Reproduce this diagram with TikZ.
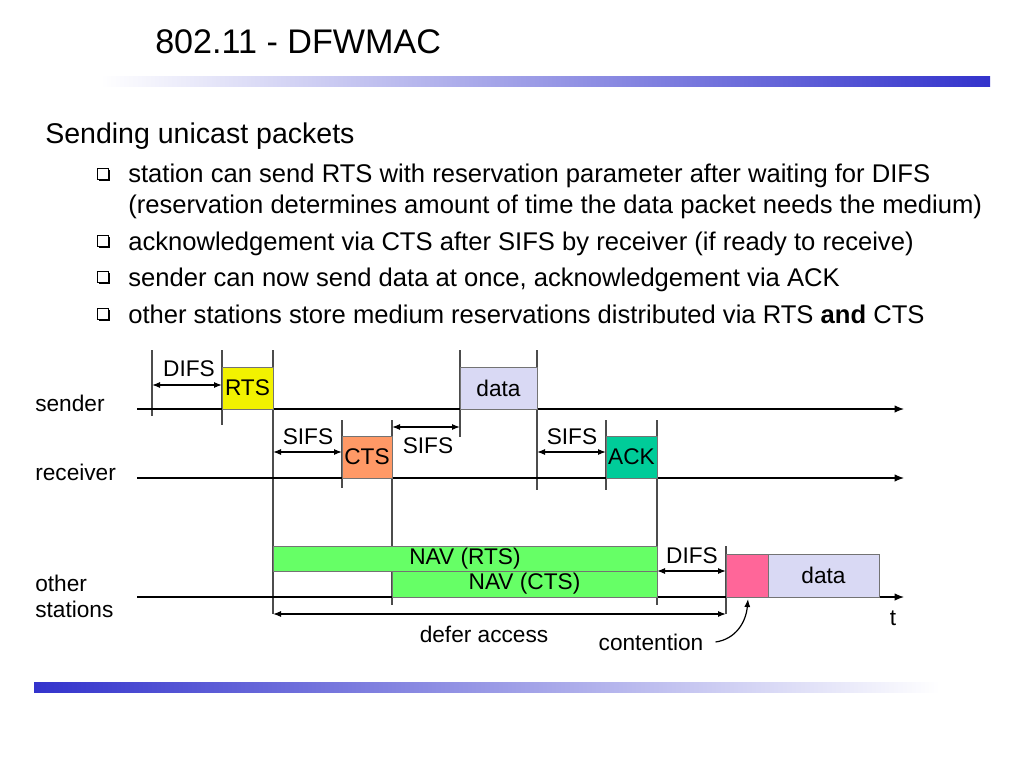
\documentclass[tikz,border=0pt]{standalone}
\usepackage{fontspec}
\setmainfont{Liberation Sans}
\usepackage{tikz}
\usetikzlibrary{positioning}
\usetikzlibrary{arrows.meta}

\definecolor{barblue}{HTML}{3333CC}
\definecolor{rtsyellow}{HTML}{F2F200}
\definecolor{ctsorange}{HTML}{FF9966}
\definecolor{ackgreen}{HTML}{00CC99}
\definecolor{datalilac}{HTML}{D9D9F4}
\definecolor{navgreen}{HTML}{66FF66}
\definecolor{contpink}{HTML}{FF6699}

\begin{document}
\begin{tikzpicture}[x=0.75pt, y=-0.75pt,
  body/.style={anchor=base west, inner sep=0pt, font=\fontsize{19.2}{23}\selectfont},
  side/.style={anchor=base west, inner sep=0pt, font=\fontsize{17}{20}\selectfont},
  txt/.style={inner sep=0pt, font=\fontsize{17}{20}\selectfont},
  slot/.style={draw=black!55, line width=0.6pt},
  marker/.style={draw=black!70, line width=0.8pt},
  axis/.style={line width=0.9pt, -{Latex[length=7pt,width=5.5pt]}},
  gap/.style={line width=0.9pt, {Latex[length=6pt,width=4.5pt]}-{Latex[length=6pt,width=4.5pt]}},
  pointer/.style={line width=0.9pt, -{Latex[length=6pt,width=4.5pt]}}]
\useasboundingbox (0,0) rectangle (1024,768);

% title and bars
\node[anchor=base west, inner sep=0pt, font=\fontsize{25.6}{30}\selectfont] (title) at (155,53) {802.11 - DFWMAC};
\shade[left color=white, right color=barblue] (100,76) rectangle (990,86);
\shade[left color=barblue, right color=white] (34,682) rectangle (940,692);

% bullet text
\node[anchor=base west, inner sep=0pt, font=\fontsize{21.4}{25}\selectfont] (head) at (45,143) {Sending unicast packets};
\node[body] (item1) at (128,182) {station can send RTS with reservation parameter after waiting for DIFS};
\node[body] (item1b) at (128,213) {(reservation determines amount of time the data packet needs the medium)};
\node[body] (item2) at (128,250) {acknowledgement via CTS after SIFS by receiver (if ready to receive)};
\node[body] (item3) at (128,286) {sender can now send data at once, acknowledgement via ACK};
\node[body] (item4) at (128,323) {other stations store medium reservations distributed via RTS \textbf{and} CTS};
\foreach \y in {174,241,277,314} {
  \draw[line width=0.6pt, fill=white] (97.5,\y-5.5) rectangle (108.5,\y+5.5);
  \draw[line width=1.4pt] (99,\y+6.4) -- (109.4,\y+6.4) -- (109.4,\y-4);
}

% station labels
\node[side] (snd) at (35,411) {sender};
\node[side] (rcv) at (35,480) {receiver};
\node[side] (oth) at (35,591) {other};
\node[side] (sta) at (35,617) {stations};

% time marks
\foreach \x/\a/\b in {152/350/416, 222/350/425, 273/350/614, 342/420/488,
                      392/420/605, 460/350/437, 537/350/490, 606/420/490,
                      657/420/605, 726/546/614}
  \draw[marker] (\x,\a) -- (\x,\b);

% time lines
\draw[axis] (137,409) -- (904,409);
\draw[axis] (137,478) -- (904,478);
\draw[axis] (137,597) -- (904,597);
\node[txt] (t) at (893,618) {t};

% frames
\draw[slot, fill=rtsyellow] (222,367) rectangle node[txt] (rts) {RTS} (273,409);
\draw[slot, fill=datalilac] (460,367) rectangle node[txt] (data) {data} (537,409);
\draw[slot, fill=ctsorange] (342,436) rectangle node[txt] (cts) {CTS} (392,478);
\draw[slot, fill=ackgreen] (606,436) rectangle node[txt] (ack) {ACK} (657,478);
\draw[slot, fill=navgreen] (273,546) rectangle node[txt] (navrts) {NAV (RTS)} (657,571);
\draw[slot, fill=navgreen] (392,571) rectangle node[txt] (navcts) {NAV (CTS)} (657,597);
\draw[slot, fill=contpink] (726,554) rectangle (768,597);
\draw[slot, fill=datalilac] (768,554) rectangle node[txt] (datab) {data} (879,597);

% spacings
\coordinate (difsa) at (152,385);  \coordinate (difsb) at (222,385);
\coordinate (sifsa) at (273,452);  \coordinate (sifsb) at (342,452);
\coordinate (sifsc) at (392,427);  \coordinate (sifsd) at (460,427);
\coordinate (sifse) at (537,452);  \coordinate (sifsf) at (606,452);
\coordinate (difsc) at (657,571);  \coordinate (difsd) at (726,571);
\coordinate (defera) at (273,614); \coordinate (deferb) at (726,614);
\draw[gap] (difsa) -- (difsb);
\draw[gap] (sifsa) -- (sifsb);
\draw[gap] (sifsc) -- (sifsd);
\draw[gap] (sifse) -- (sifsf);
\draw[gap] (difsc) -- (difsd);
\draw[gap] (defera) -- (deferb);
\node[txt] (difs1) at (189,369) {DIFS};
\node[txt] (sifs1) at (308,437) {SIFS};
\node[txt] (sifs2) at (428,446) {SIFS};
\node[txt] (sifs3) at (572,437) {SIFS};
\node[txt] (difs2) at (692,556) {DIFS};
\node[txt] (defer) at (484,634) {defer access};

% contention
\node[txt] (cont) at (651,642) {contention};
\coordinate (conttip) at (748,599);
\draw[pointer] ([xshift=9pt]cont.east) .. controls (736,639) and (746,622) .. (conttip);
\end{tikzpicture}
\end{document}
